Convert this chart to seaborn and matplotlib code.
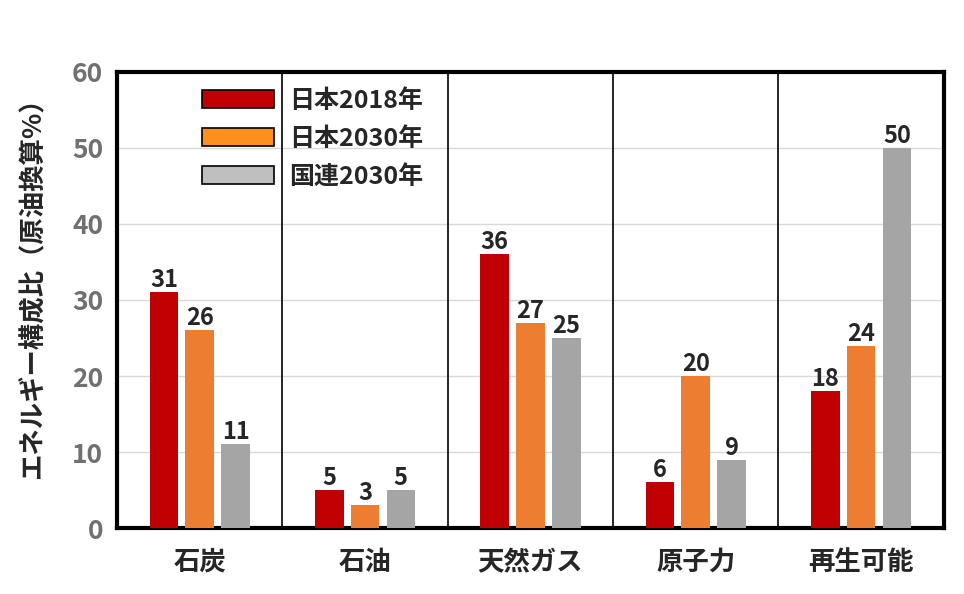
import pandas as pd
import seaborn as sns
import matplotlib.pyplot as plt
from matplotlib.patches import Patch

categories = ['石炭', '石油', '天然ガス', '原子力', '再生可能']
series = ['日本2018年', '日本2030年', '国連2030年']
japan_2018 = [31, 5, 36, 6, 18]
japan_2030 = [26, 3, 27, 20, 24]
un_2030 = [11, 5, 25, 9, 50]

bar_colors = ['#C00000', '#ED7D31', '#A5A5A5']
legend_colors = ['#C00000', '#FF9020', '#BFBFBF']

rows = []
for name, vals in zip(series, [japan_2018, japan_2030, un_2030]):
    for c, v in zip(categories, vals):
        rows.append({'区分': c, '系列': name, '値': v})
df = pd.DataFrame(rows)

sns.set_style('white')
plt.rcParams['font.family'] = ['Noto Sans CJK JP', 'DejaVu Sans']

fig = plt.figure(figsize=(9.64, 5.94), dpi=100)
ax = fig.add_axes([0.1214, 0.111, 0.8576, 0.768])

sns.barplot(data=df, x='区分', y='値', hue='系列', palette=bar_colors,
            saturation=1, linewidth=0, width=0.65, gap=0.2, ax=ax,
            legend=False, zorder=3)

for cont in ax.containers:
    ax.bar_label(cont, fontsize=17, fontweight='bold', padding=0)

ax.set_ylim(0, 60)
ax.set_xlim(-0.5, 4.5)
ax.set_yticks(range(0, 61, 10))
for y in range(10, 60, 10):
    ax.axhline(y, color='#D9D9D9', lw=1, zorder=1)
for x in [0.5, 1.5, 2.5, 3.5]:
    ax.axvline(x, color='black', lw=1.2, zorder=2)

for s in ax.spines.values():
    s.set_linewidth(3)
    s.set_color('black')

ax.tick_params(axis='y', length=0, pad=10, labelsize=19, labelcolor='#707070')
ax.tick_params(axis='x', length=0, pad=15, labelsize=19)
for lab in ax.get_yticklabels():
    lab.set_fontweight('bold')
for lab in ax.get_xticklabels():
    lab.set_fontweight('bold')

ax.set_xlabel('')
ax.set_ylabel('エネルギー構成比（原油換算%）', fontsize=19, fontweight='bold')
ax.yaxis.set_label_coords(-0.085, 0.54)

handles = [Patch(facecolor=c, edgecolor='black', linewidth=1.2) for c in legend_colors]
leg = ax.legend(handles, series, loc='upper left', bbox_to_anchor=(0.075, 1.012),
                frameon=False, handlelength=2.9, handleheight=0.72, labelspacing=0.55,
                handletextpad=0.6, prop={'weight': 'bold', 'size': 18})

fig.savefig('out.png', dpi=100)
